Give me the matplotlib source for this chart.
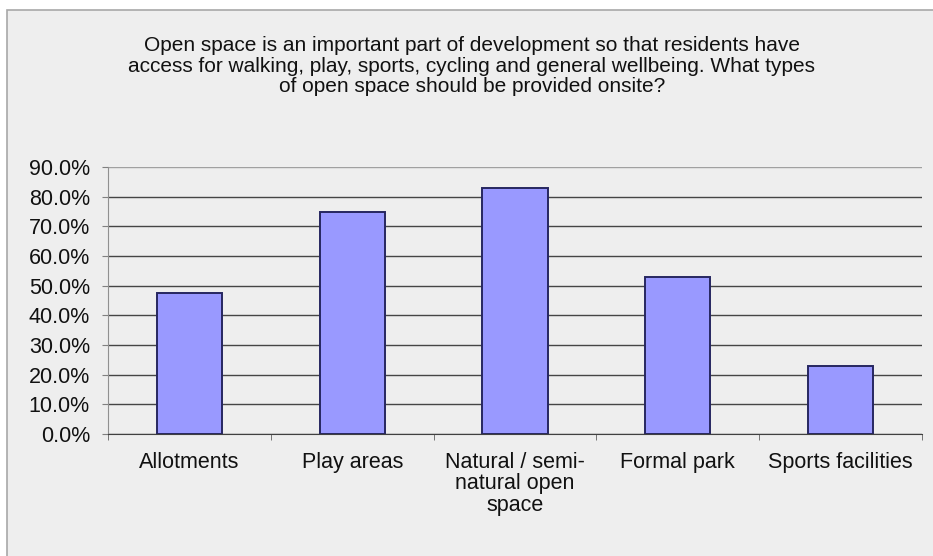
import matplotlib.pyplot as plt
from matplotlib.patches import Rectangle
from matplotlib.ticker import FixedLocator, PercentFormatter

plt.rcParams['font.family'] = ['Liberation Sans', 'DejaVu Sans']

categories = ['Allotments', 'Play areas', 'Natural / semi-\nnatural open\nspace',
              'Formal park', 'Sports facilities']
shares = [0.475, 0.75, 0.83, 0.53, 0.23]
yticks = [0.0, 0.1, 0.2, 0.3, 0.4, 0.5, 0.6, 0.7, 0.8, 0.9]

title = ('Open space is an important part of development so that residents have\n'
         'access for walking, play, sports, cycling and general wellbeing. What types\n'
         'of open space should be provided onsite?')

fig = plt.figure(figsize=(9.33, 5.56), dpi=100)
fig.patch.set_facecolor('white')

# chart frame (cut off on the right and bottom)
W, H = 933, 556
fig.patches.append(Rectangle((7 / W, -0.05), 1.0, 1 - 10 / H + 0.05,
                             transform=fig.transFigure, facecolor='#eeeeee',
                             edgecolor='#a8a8a8', linewidth=1.2, zorder=-5))

ax = fig.add_axes([108 / W, 1 - 434 / H, (922 - 108) / W, (434 - 167) / H])
ax.set_facecolor('#eeeeee')
ax.set_zorder(2)

x = range(len(categories))
ax.bar(x, shares, width=0.4, color='#9999ff', edgecolor='#262660',
       linewidth=1.4, zorder=3)

ax.set_xlim(-0.5, len(categories) - 0.5)
ax.set_ylim(0, 0.9)
ax.yaxis.set_major_locator(FixedLocator(yticks))
ax.yaxis.set_major_formatter(PercentFormatter(1.0, decimals=1))
ax.grid(axis='y', color='#454545', linewidth=1.0, zorder=1)
ax.yaxis.get_gridlines()[-1].set_color('#a0a0a0')
ax.tick_params(axis='y', length=4, color='#808080', labelsize=15.5,
               labelcolor='#111111', pad=9)

# category labels centred, tick marks at the category boundaries
ax.set_xticks(list(x))
ax.set_xticklabels(categories, fontsize=15.5, color='#111111', linespacing=1.02)
ax.tick_params(axis='x', length=0, pad=13)
ax.set_xticks([i - 0.5 for i in range(len(categories) + 1)], minor=True)
ax.tick_params(axis='x', which='minor', length=4, color='#606060')

for side in ['top', 'right']:
    ax.spines[side].set_visible(False)
ax.spines['left'].set_color('#909090')
ax.spines['bottom'].set_color('#404040')
ax.spines['bottom'].set_zorder(4)

fig.text(472 / W, 1 - 66 / H, title, ha='center', va='center',
         fontsize=15, linespacing=1.1, color='#111111')

fig.savefig('out.png', dpi=100)
